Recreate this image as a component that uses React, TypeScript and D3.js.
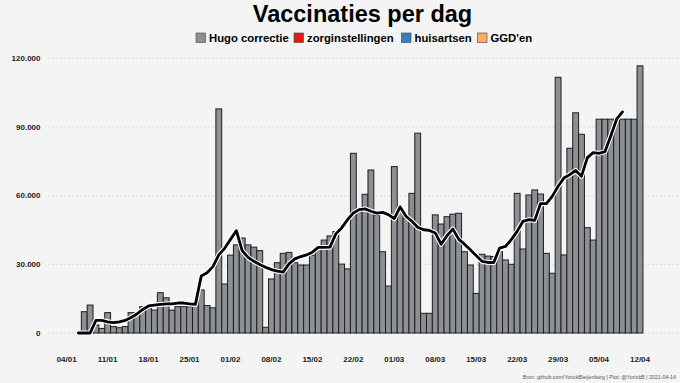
import React from "react";
import * as d3 from "d3";

const W = 680;
const H = 383;

const title = "Vaccinaties per dag";
const legendLabels = ["Hugo correctie", "zorginstellingen", "huisartsen", "GGD'en"];
const legendColors = ["#8c9094", "#e31a1c", "#3a7dbf", "#fdae61"];
const footer = "Bron: github.com/YorickBleijenberg | Plot: @YorickB  |  2021-04-14";

const yTicks = [0, 30000, 60000, 90000, 120000];
const xTickLabels = ["04/01", "11/01", "18/01", "25/01", "01/02", "08/02", "15/02", "22/02", "01/03", "08/03", "15/03", "22/03", "29/03", "05/04", "12/04"];

// bars: daily values starting 2021-01-07
const barStart = "2021-01-07";
const barValues = [
  9300, 12200, 3500, 2000, 8900, 2800, 2300, 2800, 8900, 8900,
  11500, 11000, 10000, 17600, 15400, 10000, 11500, 11500, 11500, 12000,
  18800, 12000, 11000, 97900, 21400, 34000, 38500, 41500, 38500, 37500,
  36000, 2500, 23600, 30700, 34800, 35200, 30700, 29700, 29700, 34000,
  37400, 40600, 42400, 44300, 30100, 28000, 78500, 53000, 60600, 71200,
  51300, 35500, 20500, 72700, 52800, 50100, 61000, 87300, 8600, 8600,
  51600, 47600, 50800, 51900, 52300, 35500, 29700, 17300, 34400, 33600,
  33400, 35500, 31900, 30000, 61000, 36700, 60300, 62500, 60700, 34800,
  26100, 111700, 34100, 80700, 96200, 86800, 46000, 40600, 93400, 93400,
  93400, 93400, 93400, 93400, 93400, 116700,
];

// 7-day average line starting 2021-01-06
const lineStart = "2021-01-06";
const lineValues = [
  0, 0, 0, 5500, 5500, 4900, 4500, 4900, 5500, 6800,
  8300, 10300, 11800, 12200, 12500, 12700, 12700, 13100, 13100, 12700,
  12500, 24900, 26300, 29000, 34100, 37000, 40900, 44700, 36000, 33000,
  31300, 29900, 28700, 27700, 27000, 26600, 30200, 32400, 33400, 34100,
  35300, 37400, 37400, 37500, 43300, 45900, 49500, 52400, 53900, 54200,
  53200, 52400, 52700, 51700, 50000, 55100, 51000, 48800, 46200, 45100,
  44800, 43700, 38800, 42500, 45400, 41000, 38800, 36400, 33800, 31300,
  30800, 30800, 37100, 37800, 40800, 44400, 48800, 49500, 49200, 56500,
  56500, 59700, 64100, 67700, 69200, 71000, 68500, 76600, 78800, 78500,
  79200, 86100, 93400, 96600,
];

const parseIso = d3.utcParse("%Y-%m-%d");
const parseTick = (s: string) => d3.utcParse("%d/%m/%Y")(s + "/2021") as Date;

const nlFormat = d3.formatLocale({ decimal: ",", thousands: ".", grouping: [3], currency: ["", ""] }).format(",");

const FONT = "'Liberation Sans', Arial, Helvetica, sans-serif";

export default function App() {
  const x = d3
    .scaleUtc()
    .domain([parseTick(xTickLabels[0]), parseTick(xTickLabels[xTickLabels.length - 1])])
    .range([66.7, 640]);
  const y = d3.scaleLinear().domain([0, 120000]).range([333, 58.3]);

  const b0 = parseIso(barStart) as Date;
  const l0 = parseIso(lineStart) as Date;
  const bars = barValues.map((v, i) => ({ date: d3.utcDay.offset(b0, i), v }));
  const pts = lineValues.map((v, i) => ({ date: d3.utcDay.offset(l0, i), v }));

  const bw = x(d3.utcDay.offset(b0, 1)) - x(b0);

  const line = d3
    .line<{ date: Date; v: number }>()
    .x((d) => x(d.date))
    .y((d) => y(d.v));
  const path = line(pts) || "";

  const legendX = [196, 294, 401.5, 477.5];

  return (
    <svg width={W} height={H} style={{ position: "absolute", left: 0, top: 0 }} fontFamily={FONT}>
      <rect x={0} y={0} width={W} height={H} fill="#f4f4f4" />
      {/* grid */}
      {yTicks.map((t) => (
        <line key={t} x1={48} x2={678} y1={y(t)} y2={y(t)} stroke="#d6d6d6" strokeWidth={0.8} strokeDasharray="2,2" />
      ))}
      {/* y labels */}
      {yTicks.map((t) => (
        <text key={t} x={40.5} y={y(t)} dy="0.35em" textAnchor="end" fontSize={8} fontWeight="bold" fill="#222">
          {nlFormat(t)}
        </text>
      ))}
      {/* bars */}
      {bars.map((d, i) => (
        <rect
          key={i}
          x={x(d.date) - bw / 2}
          y={y(d.v)}
          width={bw}
          height={y(0) - y(d.v)}
          fill="#8c9094"
          stroke="#1e1e1e"
          strokeWidth={1}
        />
      ))}
      {/* line with halo */}
      <path d={path} fill="none" stroke="#ffffff" strokeWidth={5} strokeLinejoin="round" strokeLinecap="round" />
      <path d={path} fill="none" stroke="#000000" strokeWidth={2.8} strokeLinejoin="round" strokeLinecap="round" />
      {/* x labels */}
      {xTickLabels.map((s) => (
        <text key={s} x={x(parseTick(s))} y={362} textAnchor="middle" fontSize={8} fontWeight="bold" fill="#222">
          {s}
        </text>
      ))}
      {/* title */}
      <text x={362.5} y={21.8} textAnchor="middle" fontSize={23.5} fontWeight="bold" fill="#000">
        {title}
      </text>
      {/* legend */}
      {legendLabels.map((l, i) => (
        <g key={l}>
          <rect x={legendX[i]} y={33} width={9.5} height={9.5} fill={legendColors[i]} stroke="#444" strokeWidth={0.6} />
          <text x={legendX[i] + 13} y={41.6} fontSize={11.3} fontWeight="bold" fill="#000">
            {l}
          </text>
        </g>
      ))}
      {/* footer */}
      <text x={676} y={379} textAnchor="end" fontSize={5.3} fill="#555">
        {footer}
      </text>
    </svg>
  );
}
